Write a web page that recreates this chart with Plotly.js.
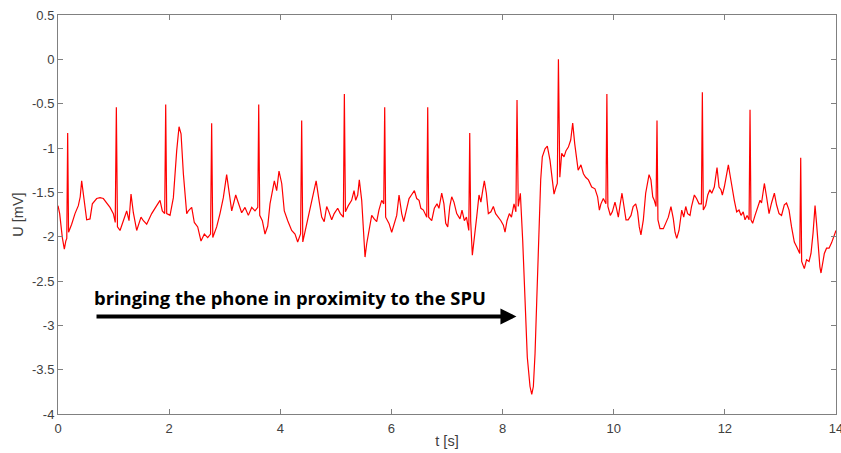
<!DOCTYPE html>
<html>
<head>
<meta charset="utf-8">
<script src="https://cdn.plot.ly/plotly-3.0.1.min.js"></script>
<style>html,body{margin:0;padding:0;background:#fff;}#chart{width:841px;height:453px;}</style>
</head>
<body>
<div id="chart"></div>
<script>
// time [s]
const tValues = [
0.00,0.03,0.078,0.114,0.14,0.158,0.174,0.19,0.246,0.306,0.366,0.40,0.426,0.45,0.474,0.516,0.576,0.618,0.696,0.756,0.816,0.876,0.936,0.996,1.030,1.050,1.070,1.116,1.176,1.236,1.278,1.314,1.356,1.416,1.494,1.536,1.596,1.686,1.776,1.836,1.877,1.92,1.938,1.956,2.016,2.076,2.136,2.178,2.214,2.256,2.316,2.345,2.406,2.453,2.514,2.573,2.633,2.694,2.745,2.765,2.785,2.855,2.915,2.975,3.035,3.077,3.126,3.198,3.245,3.305,3.365,3.425,3.486,3.545,3.595,3.612,3.630,3.677,3.725,3.774,3.815,3.857,3.893,3.935,3.977,4.026,4.072,4.134,4.205,4.265,4.313,4.365,4.385,4.405,4.475,4.535,4.594,4.645,4.697,4.745,4.79,4.835,4.875,4.925,4.97,5.033,5.08,5.135,5.153,5.172,5.224,5.284,5.327,5.357,5.393,5.422,5.465,5.494,5.525,5.555,5.597,5.645,5.69,5.735,5.775,5.825,5.862,5.879,5.896,5.956,6.005,6.05,6.095,6.137,6.185,6.221,6.275,6.317,6.36,6.413,6.455,6.497,6.53,6.575,6.636,6.653,6.670,6.725,6.772,6.82,6.855,6.905,6.945,6.977,7.013,7.05,7.085,7.125,7.175,7.234,7.27,7.312,7.35,7.392,7.409,7.426,7.456,7.492,7.534,7.576,7.61,7.642,7.672,7.708,7.744,7.79,7.834,7.875,7.924,7.97,8.014,8.044,8.08,8.122,8.16,8.206,8.24,8.26,8.282,8.32,8.362,8.404,8.445,8.494,8.525,8.554,8.584,8.615,8.656,8.686,8.715,8.764,8.805,8.854,8.895,8.926,8.962,8.985,9.005,9.03,9.064,9.106,9.142,9.184,9.226,9.262,9.298,9.334,9.36,9.41,9.455,9.495,9.545,9.604,9.663,9.71,9.742,9.77,9.813,9.860,9.877,9.895,9.939,9.975,10.023,10.05,10.083,10.11,10.149,10.185,10.221,10.26,10.311,10.35,10.396,10.43,10.46,10.49,10.533,10.575,10.61,10.636,10.67,10.702,10.73,10.762,10.779,10.796,10.833,10.893,10.935,10.983,11.03,11.073,11.103,11.134,11.175,11.224,11.26,11.296,11.33,11.373,11.40,11.451,11.49,11.535,11.578,11.595,11.612,11.655,11.692,11.73,11.764,11.81,11.859,11.895,11.93,11.955,11.99,12.027,12.063,12.10,12.135,12.17,12.213,12.255,12.291,12.33,12.363,12.40,12.436,12.453,12.470,12.50,12.543,12.59,12.633,12.66,12.711,12.75,12.795,12.84,12.891,12.93,12.975,13.02,13.07,13.11,13.155,13.20,13.25,13.29,13.348,13.365,13.382,13.43,13.47,13.515,13.55,13.587,13.623,13.65,13.683,13.71,13.73,13.76,13.79,13.83,13.875,13.92,13.965,14.0
];
// voltage [mV]
const uValues = [
-1.65,-1.74,-2.01,-2.14,-2.05,-2.02,-0.83,-1.95,-1.86,-1.74,-1.65,-1.55,-1.37,-1.50,-1.63,-1.81,-1.80,-1.63,-1.57,-1.56,-1.57,-1.62,-1.67,-1.74,-1.84,-0.54,-1.89,-1.93,-1.82,-1.71,-1.82,-1.52,-1.73,-1.93,-1.78,-1.82,-1.86,-1.74,-1.65,-1.59,-1.71,-1.74,-0.51,-1.74,-1.76,-1.56,-1.03,-0.76,-0.84,-1.29,-1.74,-1.71,-1.67,-1.84,-1.89,-2.05,-1.97,-2.01,-1.97,-0.72,-2.01,-1.89,-1.74,-1.56,-1.30,-1.48,-1.71,-1.53,-1.63,-1.73,-1.67,-1.76,-1.67,-1.71,-1.67,-0.51,-1.76,-1.82,-1.97,-1.88,-1.63,-1.48,-1.37,-1.48,-1.26,-1.40,-1.71,-1.82,-1.93,-1.97,-2.06,-1.97,-0.69,-2.06,-1.86,-1.71,-1.52,-1.37,-1.59,-1.78,-1.83,-1.66,-1.72,-1.81,-1.74,-1.68,-1.74,-1.78,-0.39,-1.72,-1.65,-1.59,-1.48,-1.59,-1.53,-1.36,-1.59,-1.89,-2.23,-2.08,-1.93,-1.76,-1.80,-1.83,-1.70,-1.59,-1.63,-0.54,-1.78,-1.85,-1.95,-1.85,-1.76,-1.53,-1.74,-1.83,-1.66,-1.57,-1.53,-1.48,-1.57,-1.59,-1.68,-1.70,-1.78,-0.54,-1.78,-1.82,-1.68,-1.63,-1.68,-1.51,-1.63,-1.85,-1.89,-1.66,-1.55,-1.61,-1.74,-1.80,-1.70,-1.82,-1.78,-1.93,-0.83,-1.82,-2.21,-2.04,-1.78,-1.53,-1.61,-1.48,-1.37,-1.51,-1.74,-1.72,-1.66,-1.74,-1.78,-1.82,-1.87,-1.95,-1.82,-1.74,-1.78,-1.63,-1.72,-0.46,-1.66,-1.51,-2.04,-2.79,-3.36,-3.69,-3.78,-3.69,-3.32,-2.72,-1.89,-1.36,-1.10,-1.01,-0.98,-1.14,-1.36,-1.52,-1.44,-1.40,0.0,-1.33,-1.06,-1.10,-1.03,-0.99,-0.91,-0.72,-0.95,-1.16,-1.25,-1.19,-1.29,-1.33,-1.36,-1.44,-1.46,-1.55,-1.70,-1.63,-1.57,-1.63,-0.39,-1.66,-1.76,-1.72,-1.61,-1.68,-1.78,-1.66,-1.51,-1.66,-1.81,-1.81,-1.76,-1.66,-1.63,-1.72,-1.89,-1.98,-1.81,-1.51,-1.40,-1.30,-1.36,-1.55,-1.59,-1.66,-0.69,-1.81,-1.91,-1.91,-1.85,-1.78,-1.66,-1.80,-1.95,-2.02,-1.93,-1.70,-1.78,-1.66,-1.74,-1.76,-1.66,-1.53,-1.57,-1.63,-1.63,-0.37,-1.70,-1.65,-1.53,-1.47,-1.51,-1.44,-1.22,-1.44,-1.47,-1.53,-1.44,-1.29,-1.19,-1.33,-1.47,-1.59,-1.72,-1.70,-1.76,-1.72,-1.81,-1.76,-1.81,-0.57,-1.81,-1.85,-1.76,-1.68,-1.59,-1.62,-1.40,-1.55,-1.74,-1.62,-1.51,-1.64,-1.74,-1.76,-1.64,-1.62,-1.70,-1.89,-2.06,-2.11,-2.19,-1.11,-2.28,-2.36,-2.26,-2.28,-2.19,-1.96,-1.65,-1.85,-2.15,-2.34,-2.41,-2.30,-2.19,-2.13,-2.13,-2.07,-2.00,-1.93
];
const xTickVals = [0,2,4,6,8,10,12,14];
const xTickText = ['0','2','4','6','8','10','12','14'];
const yTickVals = [0.5,0,-0.5,-1,-1.5,-2,-2.5,-3,-3.5,-4];
const yTickText = ['0.5','0','-0.5','-1','-1.5','-2','-2.5','-3','-3.5','-4'];
const annotationText = 'bringing the phone in proximity to the SPU';
const arrowStartT = 0.666, arrowEndT = 8.25, arrowU = -2.9, textU = -2.69;

const tickFont = {family: 'Liberation Sans, Arial, sans-serif', size: 13, color: '#404040'};
const titleFont = {family: 'Liberation Sans, Arial, sans-serif', size: 14.5, color: '#404040'};
const axisCommon = {
  showline: true, linecolor: '#808080', linewidth: 1, mirror: 'ticks',
  ticks: 'inside', ticklen: 5, tickcolor: '#808080', tickwidth: 1,
  showgrid: false, zeroline: false, tickfont: tickFont, tickmode: 'array',
  ticklabeloverflow: 'allow'
};

const trace = {
  x: tValues, y: uValues, type: 'scatter', mode: 'lines',
  line: {color: '#ff0000', width: 1.2}, hoverinfo: 'skip'
};

const layout = {
  width: 841, height: 453,
  margin: {l: 58, r: 5, t: 15, b: 39},
  paper_bgcolor: '#ffffff', plot_bgcolor: '#ffffff',
  showlegend: false,
  xaxis: Object.assign({}, axisCommon, {
    range: [0, 14], tickvals: xTickVals, ticktext: xTickText,
    ticklabelstandoff: 2,
    title: {text: 't [s]', font: titleFont, standoff: 1}
  }),
  yaxis: Object.assign({}, axisCommon, {
    range: [-4, 0.5], tickvals: yTickVals, ticktext: yTickText,
    title: {text: 'U [mV]', font: titleFont, standoff: 4}
  }),
  annotations: [
    {
      xref: 'x', yref: 'y', x: arrowStartT, y: textU,
      text: '<b>' + annotationText + '</b>', showarrow: false,
      xanchor: 'left', yanchor: 'middle', xshift: -3,
      font: {family: 'Open Sans, sans-serif', size: 18.4, color: '#000000'}
    },
    {
      xref: 'x', yref: 'y', axref: 'x', ayref: 'y',
      x: arrowEndT, y: arrowU, ax: arrowStartT, ay: arrowU,
      text: '', showarrow: true, arrowhead: 2, arrowsize: 0.8,
      arrowwidth: 4, arrowcolor: '#000000'
    }
  ]
};

Plotly.newPlot('chart', [trace], layout, {staticPlot: true, displayModeBar: false});
</script>
</body>
</html>
